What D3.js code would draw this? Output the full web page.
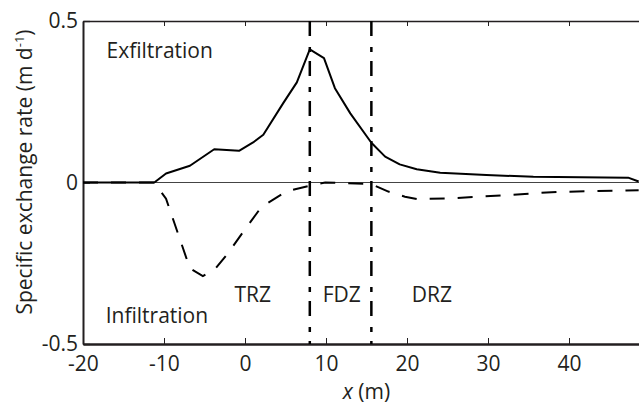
<!DOCTYPE html>
<html>
<head>
<meta charset="utf-8">
<script src="https://cdn.jsdelivr.net/npm/d3@7"></script>
<style>
  body { margin: 0; background: #fff; }
  svg { display: block; font-family: "Open Sans", sans-serif; }
  .axis text { font-size: 21px; fill: #231f20; font-family: "Open Sans", sans-serif; }
  .axis line, .axis path { stroke: #231f20; }
</style>
</head>
<body>
<div id="chart"></div>
<script>
// distance along the stream (m) and specific exchange rate (m/d)
const exfilX = [-20, -11.2, -9.75, -6.8, -3.8, -0.74, 1.0, 2.26, 4.7, 6.4, 8.0, 9.75, 11.1, 13.0, 15.6, 17.3, 19.1, 21.2, 24.1, 29.8, 35.6, 47.3, 48.6];
const exfilRate = [0, 0, 0.028, 0.052, 0.103, 0.098, 0.124, 0.148, 0.245, 0.31, 0.412, 0.385, 0.292, 0.214, 0.123, 0.08, 0.056, 0.041, 0.030, 0.023, 0.018, 0.015, 0.003];

const infilX = [-20, -11.2, -9.75, -6.8, -5.2, -3.7, -2.1, -0.2, 2.05, 5.1, 7.8, 9.9, 15.6, 17.7, 19.75, 21.2, 25.3, 32.3, 38.5, 47.1, 48.6];
const infilRate = [0, 0, -0.05, -0.266, -0.29, -0.268, -0.219, -0.152, -0.075, -0.028, -0.011, 0, -0.005, -0.028, -0.044, -0.051, -0.049, -0.039, -0.029, -0.025, -0.024];

// zone boundaries (m) and zone names
const boundaries = [8.0, 15.6];
const zoneNames = ["TRZ", "FDZ", "DRZ"];

const xTicks = [-20, -10, 0, 10, 20, 30, 40];
const yTicks = [-0.5, 0, 0.5];

const width = 639, height = 409;
const margin = {top: 21, right: -11, bottom: 65, left: 83};

const svg = d3.select("#chart").append("svg")
    .attr("width", width)
    .attr("height", height);

const x = d3.scaleLinear()
    .domain([-20, 50])
    .range([margin.left, width - margin.right]);

const y = d3.scaleLinear()
    .domain([-0.5, 0.5])
    .range([height - margin.bottom, margin.top]);

const fmtY = d => d === 0 ? "0" : d3.format(".1f")(d).replace("−", "-");
const fmtX = d => String(d);

// zero line
svg.append("line")
    .attr("x1", x(-20)).attr("x2", x(50))
    .attr("y1", y(0)).attr("y2", y(0))
    .attr("stroke", "#444")
    .attr("stroke-width", 1);

// top axis (ticks only)
const topAxis = svg.append("g")
    .attr("class", "axis")
    .attr("transform", `translate(0,${y(0.5)})`)
    .call(d3.axisTop(x).tickValues(xTicks).tickSizeInner(-5).tickSizeOuter(0).tickFormat(""));
topAxis.select(".domain").attr("stroke-width", 1.3);
topAxis.selectAll(".tick line").attr("stroke-width", 1);

// bottom axis
const bottomAxis = svg.append("g")
    .attr("class", "axis")
    .attr("transform", `translate(0,${y(-0.5)})`)
    .call(d3.axisBottom(x).tickValues(xTicks).tickSizeInner(-6).tickSizeOuter(0).tickPadding(12).tickFormat(fmtX));
bottomAxis.select(".domain").attr("stroke-width", 2.5);
bottomAxis.selectAll(".tick line").attr("stroke-width", 1);

// left axis
const leftAxis = svg.append("g")
    .attr("class", "axis")
    .attr("transform", `translate(${x(-20)},0)`)
    .call(d3.axisLeft(y).tickValues(yTicks).tickSizeInner(-7).tickSizeOuter(0).tickPadding(5).tickFormat(fmtY));
leftAxis.select(".domain").attr("stroke-width", 2);
leftAxis.selectAll(".tick line").attr("stroke-width", 1.3);

// zone boundaries
svg.selectAll("line.boundary")
    .data(boundaries)
    .enter().append("line")
    .attr("class", "boundary")
    .attr("x1", d => x(d)).attr("x2", d => x(d))
    .attr("y1", y(0.5)).attr("y2", y(-0.5))
    .attr("stroke", "#000")
    .attr("stroke-width", 2.5)
    .attr("stroke-dasharray", "15,11,5,9");

const line = d3.line()
    .x(d => x(d[0]))
    .y(d => y(d[1]));

// infiltration (dashed)
svg.append("path")
    .datum(d3.zip(infilX, infilRate))
    .attr("d", line)
    .attr("fill", "none")
    .attr("stroke", "#000")
    .attr("stroke-width", 2)
    .attr("stroke-dasharray", "15,13");

// exfiltration (solid)
svg.append("path")
    .datum(d3.zip(exfilX, exfilRate))
    .attr("d", line)
    .attr("fill", "none")
    .attr("stroke", "#000")
    .attr("stroke-width", 2)
    .attr("stroke-linejoin", "round");

// annotations
const ann = svg.append("g")
    .attr("font-size", 21)
    .attr("fill", "#231f20");

ann.append("text").attr("x", x(-17.1)).attr("y", y(0.385)).text("Exfiltration");
ann.append("text").attr("x", x(-17.2)).attr("y", y(-0.434)).text("Infiltration");

const zoneLabelX = [-1.3, 9.6, 20.6];
ann.selectAll("text.zone")
    .data(zoneNames)
    .enter().append("text")
    .attr("class", "zone")
    .attr("x", (d, i) => x(zoneLabelX[i]))
    .attr("y", y(-0.37))
    .text(d => d);

// axis titles
const xLabel = svg.append("text")
    .attr("x", (x(-20) + x(50)) / 2)
    .attr("y", 399)
    .attr("text-anchor", "middle")
    .attr("font-size", 21)
    .attr("fill", "#231f20");
xLabel.append("tspan").attr("font-style", "italic").text("x");
xLabel.append("tspan").text(" (m)");

const yLabel = svg.append("text")
    .attr("transform", `translate(32,172) rotate(-90)`)
    .attr("text-anchor", "middle")
    .attr("font-size", 21)
    .attr("fill", "#231f20");
yLabel.append("tspan").text("Specific exchange rate (m d");
yLabel.append("tspan").attr("font-size", 13).attr("dy", -8).text("-1");
yLabel.append("tspan").attr("dy", 8).text(")");
</script>
</body>
</html>
